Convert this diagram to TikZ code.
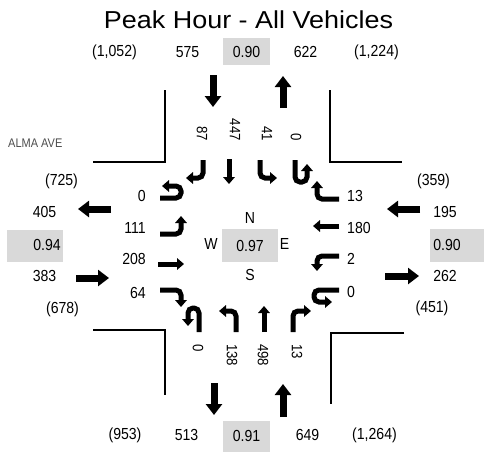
\documentclass[tikz,border=0pt]{standalone}
\usepackage{fontspec}
\setmainfont[FakeStretch=0.88]{Liberation Sans}
\newfontfamily\headfont[FakeStretch=1.1]{Liberation Sans}
\usetikzlibrary{arrows.meta,positioning}
\definecolor{phfgray}{RGB}{217,217,217}
\tikzset{
  % Heading
  figtitle/.style={font=\headfont\fontsize{24.5}{24.5}\selectfont, inner sep=0pt},
  % Volumes and labels
  vol/.style={font=\fontsize{16}{16}\selectfont, inner sep=0pt},
  vol-rot/.style={font=\fontsize{15}{15}\selectfont, inner sep=0pt, rotate=-90},
  street/.style={font=\fontsize{12.5}{12.5}\selectfont, text=black!70, inner sep=0pt},
  % Peak hour factor cell
  phfbox/.style={fill=phfgray, draw=none, inner sep=0pt},
  % Leg arrows (approach / departure)
  legarr/.style={line width=7pt, -{Triangle[length=11pt,width=16pt]}},
  % Turning movement arrows
  movthru/.style={line width=5pt, -{Triangle[length=7pt,width=11.5pt]}},
  movarr/.style={movthru, rounded corners=5pt},
  % Curb lines
  curb/.style={line width=1.4pt}
}
\begin{document}
\begin{tikzpicture}[x=1pt,y=-1pt]
\useasboundingbox (0,0) rectangle (484,451);

\node[figtitle] (ttl) at (248.5,20) {Peak Hour - All Vehicles};

% ============== Curbs ==============
\draw[curb] (93,162) -- (165,162) -- (165,90);
\draw[curb] (330,90) -- (330,162) -- (402,162);
\draw[curb] (93,330) -- (165,330) -- (165,395);
\draw[curb] (404,333) -- (331,333) -- (331,404);

% ============== NORTH leg ==============
\node[phfbox, minimum width=47pt, minimum height=27pt] (nbox) at (246.5,51.5) {};
\node[vol] (nphf) at (nbox) {0.90};
\node[vol] (nin2) at (114.5,52) {(1,052)};
\node[vol] (nin) at (187.5,52) {575};
\node[vol] (nout) at (305.5,52) {622};
\node[vol] (nout2) at (376.5,52) {(1,224)};

\draw[legarr] (213,75) -- (213,107);
\draw[legarr] (283,108) -- (283,76);

\node[vol-rot, anchor=east] (nrt) at (202,141) {87};
\node[vol-rot, anchor=east] (nth) at (235,141) {447};
\node[vol-rot, anchor=east] (nlt) at (267,141) {41};
\node[vol-rot, anchor=east] (nut) at (296,141) {0};

\draw[movarr] (203,160) -- (203,178) -- (186,178);
\draw[movthru] (229,159) -- (229,184);
\draw[movarr] (260,160) -- (260,178) -- (277,178);
\draw[movarr] (295,160) -- (295,182) -- (307,182) -- (307,164);

% ============== WEST leg ==============
\node[street, anchor=west] (alma) at (8,143) {ALMA AVE};
\node[phfbox, minimum width=56pt, minimum height=32pt] (wbox) at (35,246) {};
\node[vol] (wphf) at (47,245) {0.94};
\node[vol] (wout2) at (61.5,181) {(725)};
\node[vol] (wout) at (44.5,212) {405};
\node[vol] (win) at (44.5,276) {383};
\node[vol] (win2) at (62.5,309) {(678)};

\draw[legarr] (111,209) -- (78,209);
\draw[legarr] (76,278) -- (109,278);

\node[vol, anchor=east] (wut) at (146,196) {0};
\node[vol, anchor=east] (wlt) at (146,228) {111};
\node[vol, anchor=east] (wth) at (146,259) {208};
\node[vol, anchor=east] (wrt) at (146,293) {64};

\draw[movarr] (160,198) -- (181,198) -- (181,186) -- (162,186);
\draw[movarr] (160,234) -- (181,234) -- (181,216);
\draw[movthru] (158,264) -- (184,264);
\draw[movarr] (160,290) -- (181,290) -- (181,307);

% ============== Centre ==============
\node[phfbox, minimum width=56pt, minimum height=33pt] (cbox) at (250,245.5) {};
\node[vol] (cphf) at (cbox) {0.97};
\node[vol] (cn) at (250,218) {N};
\node[vol] (cs) at (250,275) {S};
\node[vol] (cw) at (211,244) {W};
\node[vol] (ce) at (284.5,244) {E};

% ============== EAST leg ==============
\node[phfbox, minimum width=54pt, minimum height=33pt] (ebox) at (457,245.5) {};
\node[vol] (ephf) at (447,245) {0.90};
\node[vol] (ein2) at (433.5,181) {(359)};
\node[vol] (ein) at (445,212) {195};
\node[vol] (eout) at (445,276) {262};
\node[vol] (eout2) at (432,308) {(451)};

\draw[legarr] (420,209) -- (387,209);
\draw[legarr] (385,276) -- (419,276);

\node[vol, anchor=west] (ert) at (347,196) {13};
\node[vol, anchor=west] (eth) at (347,228) {180};
\node[vol, anchor=west] (elt) at (347,259) {2};
\node[vol, anchor=west] (eut) at (347,292) {0};

\draw[movarr] (339,199) -- (317,199) -- (317,181);
\draw[movthru] (339,226) -- (313,226);
\draw[movarr] (339,256) -- (317,256) -- (317,271);
\draw[movarr] (339,290) -- (314,290) -- (314,302) -- (332,302);

% ============== SOUTH leg ==============
\node[phfbox, minimum width=47pt, minimum height=31pt] (sbox) at (246.5,436) {};
\node[vol] (sphf) at (sbox) {0.91};
\node[vol] (sout2) at (125,435) {(953)};
\node[vol] (sout) at (186.5,435) {513};
\node[vol] (sin) at (307.5,435) {649};
\node[vol] (sin2) at (374.5,435) {(1,264)};

\draw[legarr] (214,383) -- (214,415);
\draw[legarr] (283,417) -- (283,384);

\node[vol-rot, anchor=west] (sut) at (198,344) {0};
\node[vol-rot, anchor=west] (slt) at (232,344) {138};
\node[vol-rot, anchor=west] (sth) at (263,344) {498};
\node[vol-rot, anchor=west] (srt) at (297,344) {13};

\draw[movarr] (199,332) -- (199,308) -- (188,308) -- (188,326);
\draw[movarr] (236,332) -- (236,311) -- (219,311);
\draw[movthru] (264,332) -- (264,306);
\draw[movarr] (293,332) -- (293,311) -- (311,311);

\end{tikzpicture}
\end{document}
